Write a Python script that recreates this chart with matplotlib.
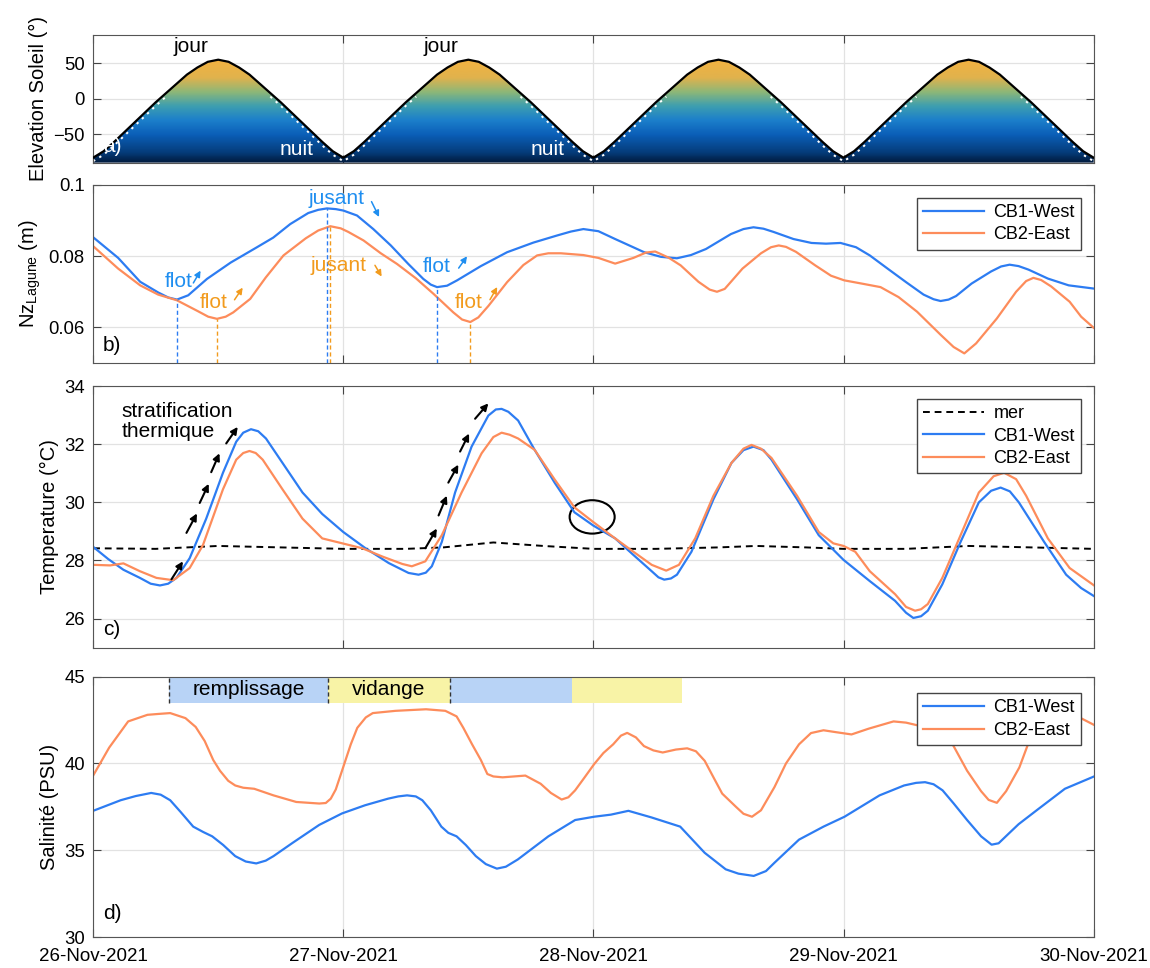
import datetime as dt
import numpy as np
import matplotlib
matplotlib.use("Agg")
import matplotlib.pyplot as plt
import matplotlib.dates as mdates
from matplotlib.colors import LinearSegmentedColormap
from matplotlib.patches import Polygon, Ellipse

plt.rcParams['font.family'] = ['Liberation Sans', 'DejaVu Sans']
plt.rcParams['font.size'] = 13
plt.rcParams['lines.solid_joinstyle'] = 'round'

# ---- data (time in days since 26-Nov-2021 00:00) ----
sun_elev = [-83, -74, -61, -47, -33, -19, -5, 8, 21, 34, 44, 52, 55, 52, 44, 34, 21, 8, -5, -19, -33, -47, -61, -74,
            -83, -74, -61, -47, -33, -19, -5, 8, 21, 34, 44, 52, 55, 52, 44, 34, 21, 8, -5, -19, -33, -47, -61, -74,
            -83, -74, -61, -47, -33, -19, -5, 8, 21, 34, 44, 52, 55, 52, 44, 34, 21, 8, -5, -19, -33, -47, -61, -74,
            -83, -74, -61, -47, -33, -19, -5, 8, 21, 34, 44, 52, 55, 52, 44, 34, 21, 8, -5, -19, -33, -47, -61, -74,
            -83]

nz_t_west = [0, 0.1, 0.188, 0.26, 0.3, 0.335, 0.38, 0.455, 0.55, 0.655, 0.72, 0.788, 0.86, 0.9, 0.935, 0.97,
             1.0, 1.055, 1.12, 1.19, 1.26, 1.32, 1.35, 1.375, 1.415, 1.455, 1.55, 1.655, 1.76, 1.855, 1.91,
             1.96, 2.02, 2.087, 2.203, 2.27, 2.334, 2.39, 2.45, 2.55, 2.6, 2.64, 2.68, 2.72, 2.8, 2.872, 2.93,
             2.988, 3.05, 3.105, 3.18, 3.25, 3.32, 3.36, 3.388, 3.42, 3.45, 3.512, 3.59, 3.63, 3.664, 3.7,
             3.74, 3.817, 3.9, 4.0]
nz_west = [0.0853, 0.0795, 0.0728, 0.0698, 0.0684, 0.0678, 0.0690, 0.0736, 0.0782, 0.0825, 0.0852, 0.0890,
           0.0921, 0.0930, 0.0934, 0.0932, 0.0928, 0.0914, 0.0876, 0.0830, 0.0778, 0.0736, 0.0720, 0.0713,
           0.0717, 0.0732, 0.0772, 0.0811, 0.0838, 0.0858, 0.0869, 0.0876, 0.0870, 0.0848, 0.0811, 0.0798,
           0.0794, 0.0803, 0.0820, 0.0862, 0.0876, 0.0881, 0.0877, 0.0868, 0.0848, 0.0837, 0.0835, 0.0837,
           0.0825, 0.0802, 0.0763, 0.0727, 0.0692, 0.0679, 0.0674, 0.0678, 0.0688, 0.0723, 0.0757, 0.0771,
           0.0776, 0.0772, 0.0762, 0.0737, 0.0718, 0.0709]

nz_t_east = [0, 0.1, 0.188, 0.26, 0.335, 0.42, 0.46, 0.495, 0.53, 0.56, 0.628, 0.69, 0.761, 0.85, 0.9, 0.948,
             0.99, 1.02, 1.081, 1.15, 1.215, 1.29, 1.361, 1.44, 1.475, 1.508, 1.54, 1.58, 1.655, 1.72, 1.775,
             1.82, 1.87, 1.96, 2.02, 2.087, 2.16, 2.21, 2.247, 2.3, 2.349, 2.42, 2.465, 2.494, 2.525, 2.55,
             2.596, 2.67, 2.71, 2.741, 2.77, 2.81, 2.887, 2.95, 3.003, 3.08, 3.148, 3.22, 3.294, 3.39, 3.44,
             3.483, 3.53, 3.613, 3.69, 3.73, 3.759, 3.79, 3.83, 3.904, 3.95, 4.0]
nz_east = [0.0828, 0.0765, 0.0718, 0.0692, 0.0676, 0.0645, 0.0630, 0.0624, 0.0630, 0.0642, 0.0680, 0.0740,
           0.0802, 0.0850, 0.0872, 0.0884, 0.0878, 0.0868, 0.0844, 0.0808, 0.0778, 0.0738, 0.0694, 0.0642,
           0.0622, 0.0615, 0.0628, 0.0660, 0.0727, 0.0775, 0.0802, 0.0808, 0.0808, 0.0803, 0.0795, 0.0779,
           0.0795, 0.0810, 0.0813, 0.0796, 0.0774, 0.0728, 0.0706, 0.0700, 0.0708, 0.0728, 0.0765, 0.0808,
           0.0825, 0.0830, 0.0826, 0.0812, 0.0774, 0.0745, 0.0732, 0.0722, 0.0713, 0.0685, 0.0644, 0.0578,
           0.0545, 0.0527, 0.0555, 0.0625, 0.0700, 0.0730, 0.0739, 0.0733, 0.0715, 0.0672, 0.0630, 0.0599]

# flot / jusant markers: time and level of the turning point
turn_t_west = [0.335, 0.935, 1.375]
turn_v_west = [0.0678, 0.0934, 0.0713]
turn_t_east = [0.495, 0.945, 1.508]
turn_v_east = [0.0624, 0.0884, 0.0615]

temp_t_west = [0, 0.06, 0.121, 0.187, 0.23, 0.267, 0.3, 0.333, 0.386, 0.452, 0.519, 0.572, 0.6, 0.631, 0.66,
               0.691, 0.757, 0.837, 0.916, 1.0, 1.089, 1.182, 1.261, 1.301, 1.33, 1.354, 1.394, 1.447, 1.513,
               1.58, 1.61, 1.633, 1.66, 1.699, 1.765, 1.845, 1.924, 2.0, 2.087, 2.16, 2.233, 2.26, 2.283, 2.31,
               2.334, 2.392, 2.48, 2.552, 2.6, 2.64, 2.68, 2.712, 2.814, 2.901, 3.0, 3.105, 3.206, 3.25, 3.279,
               3.31, 3.337, 3.395, 3.468, 3.541, 3.59, 3.628, 3.665, 3.701, 3.802, 3.89, 3.95, 4.0]
temp_west = [28.47, 28.05, 27.68, 27.40, 27.20, 27.14, 27.20, 27.40, 28.08, 29.44, 31.02, 32.09, 32.40, 32.52,
             32.45, 32.20, 31.36, 30.34, 29.60, 28.98, 28.42, 27.91, 27.57, 27.51, 27.58, 27.80, 28.64, 30.34,
             31.92, 32.99, 33.20, 33.22, 33.12, 32.82, 31.81, 30.68, 29.66, 29.20, 28.76, 28.19, 27.63, 27.42,
             27.34, 27.38, 27.51, 28.30, 30.11, 31.36, 31.80, 31.92, 31.80, 31.47, 30.11, 28.87, 28.02, 27.29,
             26.61, 26.20, 26.02, 26.08, 26.27, 27.18, 28.64, 30.00, 30.40, 30.51, 30.38, 30.00, 28.64, 27.51,
             27.05, 26.78]

temp_t_east = [0, 0.068, 0.121, 0.187, 0.253, 0.32, 0.386, 0.439, 0.519, 0.572, 0.6, 0.625, 0.65, 0.678, 0.757,
               0.837, 0.916, 0.996, 1.076, 1.155, 1.236, 1.274, 1.328, 1.394, 1.473, 1.553, 1.6, 1.633, 1.665,
               1.699, 1.765, 1.845, 1.924, 2.0, 2.087, 2.16, 2.233, 2.291, 2.342, 2.407, 2.48, 2.552, 2.6, 2.632,
               2.67, 2.712, 2.814, 2.901, 2.959, 3.0, 3.047, 3.105, 3.206, 3.25, 3.286, 3.31, 3.337, 3.395,
               3.468, 3.541, 3.6, 3.642, 3.69, 3.73, 3.817, 3.904, 4.0]
temp_east = [27.85, 27.83, 27.90, 27.63, 27.40, 27.32, 27.74, 28.53, 30.45, 31.47, 31.70, 31.77, 31.70, 31.47,
             30.45, 29.44, 28.76, 28.59, 28.42, 28.14, 27.88, 27.80, 27.97, 28.87, 30.34, 31.69, 32.25, 32.40,
             32.33, 32.20, 31.81, 30.79, 29.83, 29.32, 28.76, 28.30, 27.85, 27.65, 27.85, 28.76, 30.23, 31.36,
             31.85, 31.98, 31.85, 31.53, 30.23, 28.98, 28.59, 28.50, 28.30, 27.63, 26.84, 26.40, 26.27, 26.32,
             26.50, 27.40, 28.87, 30.34, 30.90, 31.02, 30.80, 30.23, 28.76, 27.74, 27.15]

temp_t_sea = [0, 0.25, 0.5, 0.75, 1.0, 1.25, 1.4, 1.6, 1.8, 2.0, 2.25, 2.5, 2.65, 2.85, 3.0, 3.25, 3.5, 3.75, 4.0]
temp_sea = [28.42, 28.40, 28.50, 28.45, 28.40, 28.40, 28.45, 28.62, 28.50, 28.40, 28.40, 28.45, 28.50, 28.45,
            28.40, 28.40, 28.50, 28.45, 28.40]

# stratification arrows (tail t, tail T, head t, head T)
strat_arrows = [(0.313, 27.35, 0.359, 27.97), (0.373, 28.95, 0.415, 29.62), (0.426, 29.98, 0.462, 30.64),
                (0.472, 31.04, 0.505, 31.69), (0.532, 32.03, 0.578, 32.60),
                (1.328, 28.42, 1.374, 29.10), (1.381, 29.55, 1.414, 30.23), (1.420, 30.68, 1.460, 31.30),
                (1.467, 31.75, 1.503, 32.37), (1.527, 32.88, 1.580, 33.41)]

sal_t_west = [0, 0.11, 0.17, 0.232, 0.27, 0.308, 0.35, 0.4, 0.44, 0.476, 0.52, 0.568, 0.61, 0.652, 0.69, 0.721,
              0.797, 0.904, 0.995, 1.087, 1.179, 1.22, 1.255, 1.29, 1.316, 1.35, 1.392, 1.42, 1.453, 1.49, 1.53,
              1.57, 1.614, 1.65, 1.698, 1.82, 1.927, 2.003, 2.07, 2.14, 2.232, 2.347, 2.445, 2.529, 2.58,
              2.641, 2.69, 2.724, 2.822, 2.92, 3.004, 3.144, 3.242, 3.29, 3.326, 3.36, 3.396, 3.44, 3.494,
              3.55, 3.592, 3.62, 3.662, 3.7, 3.773, 3.885, 4.0]
sal_west = [37.27, 37.88, 38.12, 38.30, 38.20, 37.88, 37.20, 36.36, 36.05, 35.80, 35.30, 34.66, 34.35, 34.24,
            34.40, 34.66, 35.42, 36.46, 37.12, 37.59, 37.97, 38.10, 38.16, 38.10, 37.88, 37.30, 36.36, 36.00,
            35.80, 35.30, 34.66, 34.20, 33.94, 34.05, 34.47, 35.80, 36.74, 36.93, 37.05, 37.27, 36.89, 36.36,
            34.85, 33.90, 33.65, 33.52, 33.80, 34.28, 35.61, 36.36, 36.93, 38.16, 38.73, 38.88, 38.92, 38.80,
            38.45, 37.70, 36.74, 35.80, 35.32, 35.40, 35.98, 36.50, 37.31, 38.54, 39.24]

sal_t_east = [0, 0.064, 0.14, 0.217, 0.26, 0.308, 0.369, 0.41, 0.446, 0.48, 0.507, 0.54, 0.568, 0.6, 0.644,
              0.721, 0.812, 0.904, 0.93, 0.95, 0.97, 0.995, 1.03, 1.056, 1.09, 1.118, 1.209, 1.331, 1.408,
              1.453, 1.48, 1.515, 1.55, 1.576, 1.6, 1.637, 1.728, 1.789, 1.83, 1.873, 1.9, 1.927, 1.96, 2.003,
              2.04, 2.079, 2.11, 2.135, 2.17, 2.202, 2.24, 2.277, 2.33, 2.375, 2.41, 2.445, 2.48, 2.515, 2.57,
              2.6, 2.634, 2.67, 2.724, 2.77, 2.822, 2.87, 2.92, 2.97, 3.032, 3.1, 3.2, 3.25, 3.312, 3.396, 3.44,
              3.494, 3.55, 3.58, 3.613, 3.65, 3.703, 3.74, 3.773, 3.82, 3.885, 3.95, 4.0]
sal_east = [39.30, 40.91, 42.42, 42.80, 42.85, 42.90, 42.61, 42.10, 41.29, 40.20, 39.58, 39.00, 38.73, 38.60,
            38.54, 38.16, 37.78, 37.69, 37.72, 37.97, 38.50, 39.58, 41.10, 42.05, 42.65, 42.90, 43.03, 43.12,
            43.03, 42.71, 42.05, 41.10, 40.20, 39.39, 39.25, 39.20, 39.30, 38.83, 38.30, 37.92, 38.05, 38.45,
            39.10, 39.96, 40.60, 41.10, 41.60, 41.76, 41.50, 41.00, 40.75, 40.63, 40.80, 40.87, 40.70, 40.15,
            39.20, 38.26, 37.50, 37.10, 36.93, 37.30, 38.64, 40.00, 41.10, 41.75, 41.91, 41.80, 41.67, 42.00,
            42.42, 42.35, 42.14, 41.86, 41.00, 39.58, 38.40, 37.90, 37.73, 38.40, 39.77, 41.20, 42.05, 42.60,
            42.80, 42.60, 42.23]

phase_start = [0.305, 0.937, 1.426, 1.915]
phase_end = [0.937, 1.426, 1.915, 2.354]
phase_names = ['remplissage', 'vidange', '', '']

# ---- styling ----
c_west = '#2d7cf2'
c_east = '#fd8c5b'
c_west_txt = '#1f8ef0'
c_east_txt = '#f29b1d'
fs_txt = 15
fs_lab = 14.5
day0 = mdates.date2num(dt.datetime(2021, 11, 26))


def tx(t):
    return day0 + np.asarray(t, dtype=float)


fig = plt.figure(figsize=(11.5, 9.68), dpi=100)
L, W = 0.081, 0.870
ax_a = fig.add_axes([L, 0.832, W, 0.132])
ax_b = fig.add_axes([L, 0.625, W, 0.184])
ax_c = fig.add_axes([L, 0.331, W, 0.270])
ax_d = fig.add_axes([L, 0.032, W, 0.269])
axes = [ax_a, ax_b, ax_c, ax_d]

for ax in axes:
    ax.set_xlim(tx(0), tx(4))
    ax.xaxis.set_major_locator(mdates.DayLocator())
    ax.xaxis.set_major_formatter(mdates.DateFormatter('%d-%b-%Y'))
    ax.grid(True, color='#e2e2e2', lw=0.9)
    ax.set_axisbelow(True)
    ax.tick_params(direction='in', top=True, right=True, length=6, color='#444444')
    ax.tick_params(axis='y', labelsize=13.3, pad=6)
    ax.tick_params(axis='x', labelsize=13.5, pad=8)
    for s in ax.spines.values():
        s.set_color('#555555')
    if ax is not ax_d:
        ax.tick_params(labelbottom=False)

leg_kw = dict(loc='upper right', fancybox=False, edgecolor='#444444', framealpha=1, handlelength=3.4,
              fontsize=13, borderaxespad=0.7, borderpad=0.35, labelspacing=0.3, handletextpad=0.5)

# ---- a) sun elevation ----
sun_t = tx(np.arange(len(sun_elev)) / 24.0)
sun = np.array(sun_elev, dtype=float)
cmap = LinearSegmentedColormap.from_list('sun', [
    (0.0, '#011a3d'), (0.103, '#053d7c'), (0.276, '#0b5fb8'), (0.414, '#1c7fcb'),
    (0.552, '#3d9eb0'), (0.69, '#8db778'), (0.83, '#e0b24d'), (1.0, '#f3b241')])
grad = np.linspace(-90, 90, 300).reshape(-1, 1)
im = ax_a.imshow(grad, extent=[tx(0), tx(4), -90, 90], origin='lower', aspect='auto',
                 cmap=cmap, vmin=-90, vmax=55, zorder=1)
verts = [(tx(0), -90)] + list(zip(sun_t, sun)) + [(tx(4), -90)]
poly = Polygon(verts, closed=True, facecolor='none', edgecolor='none')
ax_a.add_patch(poly)
im.set_clip_path(poly)
ax_a.plot(sun_t, np.where(sun < 15, sun - 5, np.nan), color='white', ls=(0, (1.2, 2.5)), lw=1.4, zorder=2)
ax_a.plot(sun_t, sun, color='black', lw=1.6, zorder=3)
ax_a.set_ylim(-90, 90)
ax_a.set_yticks([-50, 0, 50])
ax_a.set_ylabel('Elevation Soleil (°)', fontsize=fs_lab)
for d in [0, 1]:
    ax_a.text(tx(0.39 + d), 73, 'jour', fontsize=fs_txt, ha='center', va='center')
    ax_a.text(tx(0.815 + d), -72, 'nuit', fontsize=fs_txt, ha='center', va='center', color='white')
ax_a.text(0.01, 0.08, 'a)', transform=ax_a.transAxes, fontsize=fs_txt, color='white', zorder=4)

# ---- b) lagoon level ----
ax_b.plot(tx(nz_t_west), nz_west, color=c_west, lw=1.6, label='CB1-West')
ax_b.plot(tx(nz_t_east), nz_east, color=c_east, lw=1.6, label='CB2-East')
ax_b.vlines(tx(turn_t_west), 0.05, turn_v_west, colors=c_west, linestyles=(0, (3, 2)), lw=1.0)
ax_b.vlines(tx(turn_t_east), 0.05, turn_v_east, colors=c_east_txt, linestyles=(0, (3, 2)), lw=1.0)
ax_b.set_ylim(0.05, 0.1)
ax_b.set_yticks([0.06, 0.08, 0.1])
ax_b.set_yticklabels(['0.06', '0.08', '0.1'])
ax_b.set_ylabel('Nz$_{\\mathregular{Lagune}}$ (m)', fontsize=fs_lab)
b_labels = [('flot', 0.34, 0.0729, c_west_txt, (0.395, 0.0718, 0.435, 0.0766)),
            ('flot', 0.481, 0.0671, c_east_txt, (0.559, 0.0671, 0.604, 0.0718)),
            ('jusant', 0.975, 0.0962, c_west_txt, (1.108, 0.096, 1.148, 0.0903)),
            ('jusant', 0.981, 0.0774, c_east_txt, (1.121, 0.0781, 1.159, 0.0736)),
            ('flot', 1.375, 0.0771, c_west_txt, (1.455, 0.076, 1.501, 0.0806)),
            ('flot', 1.501, 0.0671, c_east_txt, (1.581, 0.0671, 1.621, 0.072))]
for txt, t, v, col, (t0, v0, t1, v1) in b_labels:
    ax_b.text(tx(t), v, txt, color=col, fontsize=fs_txt, ha='center', va='center')
    ax_b.annotate('', xy=(tx(t1), v1), xytext=(tx(t0), v0),
                  arrowprops=dict(arrowstyle='-|>', color=col, lw=1.1, mutation_scale=9))
ax_b.text(0.01, 0.07, 'b)', transform=ax_b.transAxes, fontsize=fs_txt)
ax_b.legend(**leg_kw)

# ---- c) temperature ----
ax_c.plot(tx(temp_t_sea), temp_sea, color='black', ls=(0, (3.5, 2.5)), lw=1.4, label='mer')
ax_c.plot(tx(temp_t_west), temp_west, color=c_west, lw=1.6, label='CB1-West')
ax_c.plot(tx(temp_t_east), temp_east, color=c_east, lw=1.6, label='CB2-East')
for t0, v0, t1, v1 in strat_arrows:
    ax_c.annotate('', xy=(tx(t1), v1), xytext=(tx(t0), v0),
                  arrowprops=dict(arrowstyle='-|>', color='black', lw=1.5, mutation_scale=10,
                                  shrinkA=0, shrinkB=0))
ax_c.text(tx(0.115), 32.78, 'stratification\nthermique', fontsize=fs_txt, ha='left', va='center',
          linespacing=1.05)
ax_c.add_patch(Ellipse((tx(1.995), 29.5), 0.18, 1.15, fill=False, edgecolor='black', lw=1.5))
ax_c.set_ylim(25, 34)
ax_c.set_yticks([26, 28, 30, 32, 34])
ax_c.set_ylabel('Temperature (°C)', fontsize=fs_lab)
ax_c.text(0.01, 0.05, 'c)', transform=ax_c.transAxes, fontsize=fs_txt)
ax_c.legend(**leg_kw)

# ---- d) salinity ----
ax_d.plot(tx(sal_t_west), sal_west, color=c_west, lw=1.6, label='CB1-West')
ax_d.plot(tx(sal_t_east), sal_east, color=c_east, lw=1.6, label='CB2-East')
phase_cols = ['#b8d3f6', '#f8f3a6', '#b8d3f6', '#f8f3a6']
for s, e, name, col in zip(phase_start, phase_end, phase_names, phase_cols):
    ax_d.bar(tx(s), 1.5, width=e - s, bottom=43.5, align='edge', color=col, edgecolor='none', zorder=2)
    if name:
        ax_d.text(tx((s + e) / 2), 44.25, name, fontsize=fs_txt, ha='center', va='center', zorder=3)
ax_d.vlines(tx(phase_start[:3]), 43.5, 45, colors='#333333', linestyles=(0, (3, 2)), lw=1.0, zorder=3)
ax_d.set_ylim(30, 45)
ax_d.set_yticks([30, 35, 40, 45])
ax_d.set_ylabel('Salinité (PSU)', fontsize=fs_lab)
ax_d.text(0.01, 0.07, 'd)', transform=ax_d.transAxes, fontsize=fs_txt)
leg_d = dict(leg_kw)
leg_d['bbox_to_anchor'] = (1, 0.985)
ax_d.legend(**leg_d)

fig.savefig('out.png', dpi=100)
